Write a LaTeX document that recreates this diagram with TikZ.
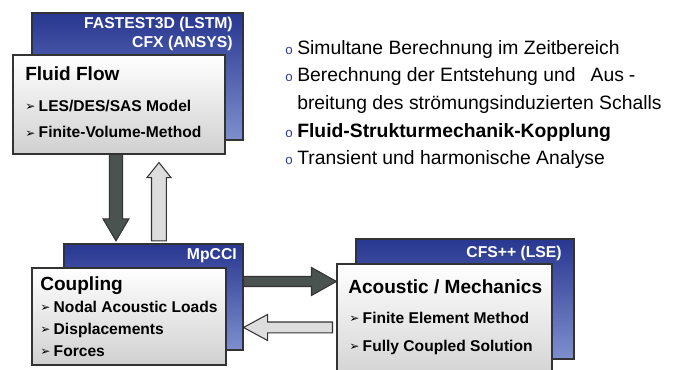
\documentclass[tikz,border=0pt]{standalone}
\usepackage{fontspec}
\setmainfont{Liberation Sans}
\newfontfamily\dingfont{DejaVu Sans}
\usetikzlibrary{calc,fit,positioning}

\definecolor{bluetop}{HTML}{283790}
\definecolor{bluebot}{HTML}{7E8FCE}
\definecolor{boxbot}{HTML}{D0D0D0}
\definecolor{arrdark}{HTML}{4B5351}
\definecolor{arrlight}{HTML}{DDDDDD}
\definecolor{edge}{HTML}{333333}
\definecolor{dotblue}{HTML}{2B3C96}

\tikzset{
  backbox/.style={draw=edge,line width=0.8pt,top color=bluetop,bottom color=bluebot,inner sep=0pt},
  frontbox/.style={draw=edge,line width=0.8pt,top color=white,bottom color=boxbot,inner sep=0pt},
  headtext/.style={text=white,font=\fontsize{11.8}{14.25}\selectfont\bfseries,align=right,inner sep=0pt},
  titletext/.style={font=\fontsize{14.3}{17}\selectfont\bfseries,anchor=base west,inner sep=0pt},
  itemtext/.style={font=\fontsize{11.7}{14}\selectfont\bfseries,anchor=base west,inner sep=0pt},
  listtext/.style={font=\fontsize{14.5}{17}\selectfont,anchor=base west,inner sep=0pt},
  darkarrow/.style={draw=edge,line width=0.8pt,fill=arrdark},
  lightarrow/.style={draw=edge,line width=0.8pt,fill=arrlight}
}
\newcommand{\itemmark}{\makebox[10.1pt][l]{\raisebox{0.2pt}{\dingfont\fontsize{9}{9}\selectfont ➢}}}
\newcommand{\listmark}{\makebox[9pt][l]{\color{dotblue}\fontsize{10}{10}\selectfont o}}

\begin{document}
\begin{tikzpicture}[x=0.75pt,y=-0.75pt]
\useasboundingbox (0,0) rectangle (683,369);
\clip (0,0) rectangle (683,369);

% fluid flow
\node[backbox,fit={(32,13) (243,140)}] (flowback) {};
\node[headtext,anchor=base east] (flowhead) at (233,47) {FASTEST3D (LSTM)\\CFX (ANSYS)};
\node[frontbox,fit={(13,55) (225,154)}] (flowbox) {};
\node[titletext] (flowtitle) at (25,80) {Fluid Flow};
\node[itemtext] (flowa) at (25,111) {\itemmark LES/DES/SAS Model};
\node[itemtext] (flowb) at (25,137.5) {\itemmark Finite-Volume-Method};

% coupling
\node[backbox,fit={(64,244) (243,350)}] (mpcciback) {};
\node[headtext,anchor=base east] (mpccihead) at (237,259) {MpCCI};
\node[frontbox,fit={(32,268) (226,365)}] (couplebox) {};
\node[titletext] (coupletitle) at (40,290) {Coupling};
\node[itemtext] (couplea) at (40,312) {\itemmark Nodal Acoustic Loads};
\node[itemtext] (coupleb) at (40,334) {\itemmark Displacements};
\node[itemtext] (couplec) at (40,356) {\itemmark Forces};

% acoustic / mechanics
\node[backbox,fit={(356,239) (574,359)}] (cfsback) {};
\node[headtext,anchor=base east] (cfshead) at (562,257) {CFS++ (LSE)};
\node[frontbox,fit={(337,264) (552,385)}] (acoustic) {};
\node[titletext] (acoustictitle) at (348,293) {Acoustic / Mechanics};
\node[itemtext] (acoustica) at (349,323) {\itemmark Finite Element Method};
\node[itemtext] (acousticb) at (349,351) {\itemmark Fully Coupled Solution};

% arrows between the boxes
\draw[darkarrow] let \p1=($(flowbox.south west)+(103.5,0)$), \p2=(mpcciback.north) in
  (\x1-4.9pt,\y1) -- (\x1-4.9pt,\y2+18.5pt) -- (\x1-9.75pt,\y2+18.5pt) -- (\x1,\y2+2pt)
  -- (\x1+9.75pt,\y2+18.5pt) -- (\x1+4.9pt,\y2+18.5pt) -- (\x1+4.9pt,\y1) -- cycle;
\draw[lightarrow] let \p1=($(flowbox.south west)+(146.5,0)$), \p2=(mpcciback.north) in
  (\x1-5.6pt,\y2+2pt) -- (\x1-5.6pt,\y1-17.25pt) -- (\x1-9pt,\y1-17.25pt) -- (\x1,\y1-6pt)
  -- (\x1+9pt,\y1-17.25pt) -- (\x1+5.6pt,\y1-17.25pt) -- (\x1+5.6pt,\y2+2pt) -- cycle;
\draw[darkarrow] let \p1=($(mpcciback.north east)+(0,38)$), \p2=(acoustic.west) in
  (\x1,\y1+3.75pt) -- (\x2-18.75pt,\y1+3.75pt) -- (\x2-18.75pt,\y1+10.5pt) -- (\x2,\y1)
  -- (\x2-18.75pt,\y1-10.5pt) -- (\x2-18.75pt,\y1-3.75pt) -- (\x1,\y1-3.75pt) -- cycle;
\draw[lightarrow] let \p1=($(mpcciback.north east)+(0,84)$), \p2=(acoustic.west) in
  (\x2-3pt,\y1+4.1pt) -- (\x1+18pt,\y1+4.1pt) -- (\x1+18pt,\y1+9.75pt) -- (\x1,\y1)
  -- (\x1+18pt,\y1-9.75pt) -- (\x1+18pt,\y1-4.1pt) -- (\x2-3pt,\y1-4.1pt) -- cycle;

% list on the right
\node[listtext] (lista) at (285,54) {\listmark Simultane Berechnung im Zeitbereich};
\node[listtext,below=20.8pt of lista.base west,anchor=base west] (listb) {\listmark Berechnung der Entstehung und\hspace{0.5em} Aus\hspace{0.25em}-};
\node[listtext,below=20.8pt of listb.base west,anchor=base west] (listc) {\hspace{9pt}breitung des strömungsinduzierten Schalls};
\node[listtext,below=20.8pt of listc.base west,anchor=base west] (listd) {\listmark\bfseries Fluid-Strukturmechanik-Kopplung};
\node[listtext,below=20.8pt of listd.base west,anchor=base west] (liste) {\listmark Transient und harmonische Analyse};
\end{tikzpicture}
\end{document}
